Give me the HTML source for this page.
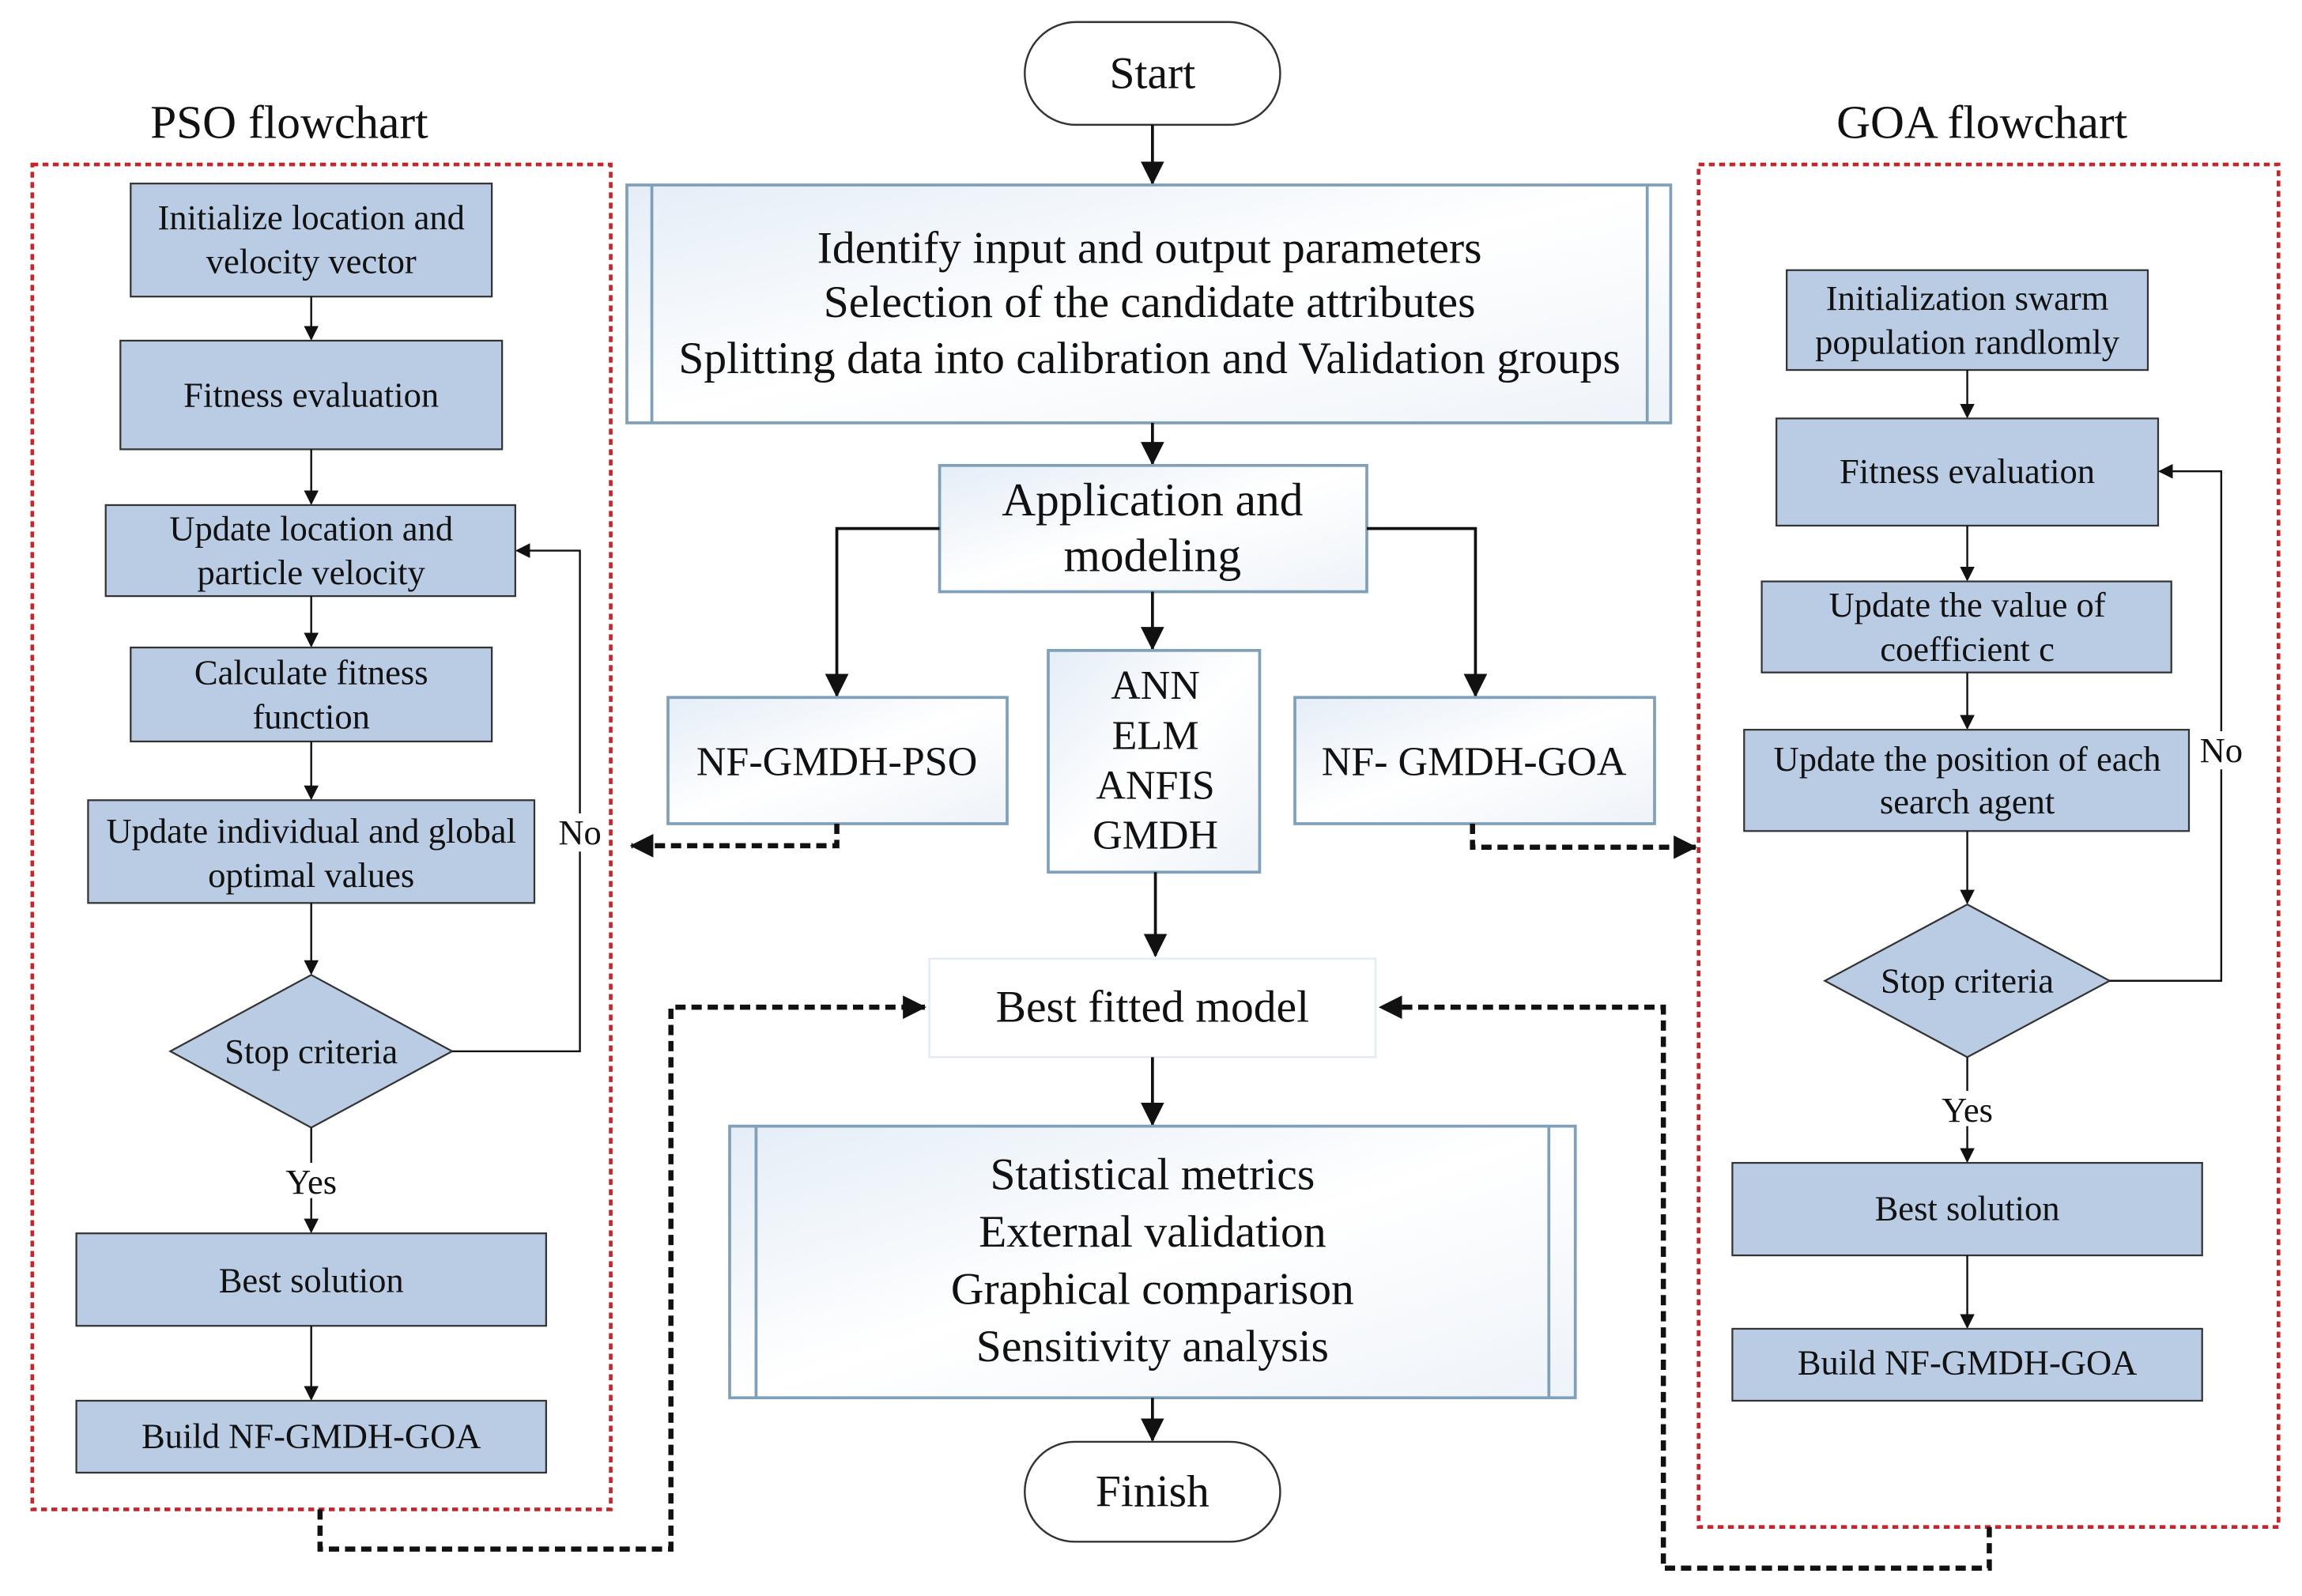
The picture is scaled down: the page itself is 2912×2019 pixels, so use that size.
<!DOCTYPE html>
<html><head><meta charset="utf-8"><style>
html,body{margin:0;padding:0;background:#fff;}
svg{display:block;}
text{font-family:"Liberation Serif",serif;fill:#111;text-anchor:middle;}
.b{fill:#b9cce4;stroke:#333;stroke-width:1.2;}
.c{fill:url(#g);stroke:#7fa0b8;stroke-width:2;}
.l{stroke:#111;stroke-width:1.3;fill:none;}
.L{stroke:#111;stroke-width:2;fill:none;}
.d{stroke:#111;stroke-width:3.5;fill:none;stroke-dasharray:7 4;}
.r{stroke:#c0282d;stroke-width:2.5;fill:none;stroke-dasharray:4 3;}
.s{font-size:24px;}
</style></head><body>
<svg width="2912" height="2019" viewBox="0 0 1568 1087" preserveAspectRatio="none" xmlns="http://www.w3.org/2000/svg">
<defs>
<linearGradient id="g" x1="0" y1="0" x2="1" y2="1"><stop offset="0" stop-color="#e4edf7"/><stop offset="0.5" stop-color="#ffffff"/><stop offset="1" stop-color="#eef3f9"/></linearGradient>
<marker id="a" markerWidth="10" markerHeight="10" refX="9" refY="5" orient="auto" markerUnits="userSpaceOnUse"><path d="M0,0 L10,5 L0,10 z" fill="#111"/></marker>
<marker id="A" markerWidth="16" markerHeight="16" refX="15" refY="8" orient="auto" markerUnits="userSpaceOnUse"><path d="M0,0 L16,8 L0,16 z" fill="#111"/></marker>
</defs>

<text x="197" y="94" font-size="32">PSO flowchart</text>
<text x="1350" y="94" font-size="32">GOA flowchart</text>

<rect class="r" x="22" y="112" width="394" height="916"/>
<rect class="r" x="1157" y="112" width="395" height="928"/>

<rect x="698" y="15" width="174" height="70" rx="35" fill="#fff" stroke="#333" stroke-width="1.3"/>
<text x="785" y="60" font-size="31">Start</text>
<line class="L" x1="785" y1="85" x2="785" y2="125" marker-end="url(#A)"/>

<rect class="c" x="427" y="126" width="711" height="162"/>
<line stroke="#7fa0b8" stroke-width="2" x1="444" y1="126" x2="444" y2="288"/>
<line stroke="#7fa0b8" stroke-width="2" x1="1122" y1="126" x2="1122" y2="288"/>
<text x="783" y="179" font-size="31">Identify input and output parameters</text>
<text x="783" y="216" font-size="31">Selection of the candidate attributes</text>
<text x="783" y="254" font-size="31">Splitting data into calibration and Validation groups</text>
<line class="L" x1="785" y1="288" x2="785" y2="316" marker-end="url(#A)"/>

<rect class="c" x="640" y="317" width="291" height="86"/>
<text x="785" y="351" font-size="32">Application and</text>
<text x="785" y="389" font-size="32">modeling</text>

<polyline class="L" points="640,360 570,360 570,474" marker-end="url(#A)"/>
<polyline class="L" points="931,360 1005,360 1005,474" marker-end="url(#A)"/>
<line class="L" x1="785" y1="403" x2="785" y2="442" marker-end="url(#A)"/>

<rect class="c" x="455" y="475" width="231" height="86"/>
<text x="570" y="528" font-size="28">NF-GMDH-PSO</text>
<rect class="c" x="714" y="443" width="144" height="151"/>
<text x="787" y="476" font-size="28">ANN</text>
<text x="787" y="510" font-size="28">ELM</text>
<text x="787" y="544" font-size="28">ANFIS</text>
<text x="787" y="578" font-size="28">GMDH</text>
<rect class="c" x="882" y="475" width="245" height="86"/>
<text x="1004" y="528" font-size="28">NF- GMDH-GOA</text>

<line class="L" x1="787" y1="594" x2="787" y2="651" marker-end="url(#A)"/>
<rect x="633" y="653" width="304" height="67" fill="#fff" stroke="#e6ecf2" stroke-width="1.5"/>
<text x="785" y="696" font-size="31">Best fitted model</text>
<line class="L" x1="785" y1="720" x2="785" y2="766" marker-end="url(#A)"/>

<rect class="c" x="497" y="767" width="576" height="185"/>
<line stroke="#7fa0b8" stroke-width="2" x1="515" y1="767" x2="515" y2="952"/>
<line stroke="#7fa0b8" stroke-width="2" x1="1055" y1="767" x2="1055" y2="952"/>
<text x="785" y="810" font-size="31">Statistical metrics</text>
<text x="785" y="849" font-size="31">External validation</text>
<text x="785" y="888" font-size="31">Graphical comparison</text>
<text x="785" y="927" font-size="31">Sensitivity analysis</text>
<line class="L" x1="785" y1="952" x2="785" y2="981" marker-end="url(#A)"/>
<rect x="698" y="982" width="174" height="68" rx="34" fill="#fff" stroke="#333" stroke-width="1.3"/>
<text x="785" y="1026" font-size="31">Finish</text>

<polyline class="d" points="570,561 570,576 430,576" marker-end="url(#A)"/>
<polyline class="d" points="1003,561 1003,577 1155,577" marker-end="url(#A)"/>
<polyline class="d" points="218,1028 218,1055 457,1055 457,686 630,686" marker-end="url(#A)"/>
<polyline class="d" points="1355,1040 1355,1068 1133,1068 1133,686 940,686" marker-end="url(#A)"/>

<rect class="b" x="89" y="125" width="246" height="77"/>
<text class="s" x="212" y="156">Initialize location and</text>
<text class="s" x="212" y="186">velocity vector</text>
<line class="l" x1="212" y1="202" x2="212" y2="231" marker-end="url(#a)"/>
<rect class="b" x="82" y="232" width="260" height="74"/>
<text class="s" x="212" y="277">Fitness evaluation</text>
<line class="l" x1="212" y1="306" x2="212" y2="343" marker-end="url(#a)"/>
<rect class="b" x="72" y="344" width="279" height="62"/>
<text class="s" x="212" y="368">Update location and</text>
<text class="s" x="212" y="398">particle velocity</text>
<line class="l" x1="212" y1="406" x2="212" y2="440" marker-end="url(#a)"/>
<rect class="b" x="89" y="441" width="246" height="64"/>
<text class="s" x="212" y="466">Calculate fitness</text>
<text class="s" x="212" y="496">function</text>
<line class="l" x1="212" y1="505" x2="212" y2="544" marker-end="url(#a)"/>
<rect class="b" x="60" y="545" width="304" height="70"/>
<text class="s" x="212" y="574">Update individual and global</text>
<text class="s" x="212" y="604">optimal values</text>
<line class="l" x1="212" y1="615" x2="212" y2="663" marker-end="url(#a)"/>
<polygon class="b" points="212,664 308,716 212,768 116,716"/>
<text class="s" x="212" y="724">Stop criteria</text>
<line class="l" x1="212" y1="768" x2="212" y2="839" marker-end="url(#a)"/>
<rect x="188" y="792" width="48" height="24" fill="#fff"/>
<text class="s" x="212" y="813">Yes</text>
<rect class="b" x="52" y="840" width="320" height="63"/>
<text class="s" x="212" y="880">Best solution</text>
<line class="l" x1="212" y1="903" x2="212" y2="953" marker-end="url(#a)"/>
<rect class="b" x="52" y="954" width="320" height="49"/>
<text class="s" x="212" y="986">Build NF-GMDH-GOA</text>
<polyline class="l" points="308,716 395,716 395,375 352,375" marker-end="url(#a)"/>
<rect x="376" y="554" width="38" height="26" fill="#fff"/>
<text class="s" x="395" y="575">No</text>

<rect class="b" x="1217" y="184" width="246" height="68"/>
<text class="s" x="1340" y="211">Initialization swarm</text>
<text class="s" x="1340" y="241">population randlomly</text>
<line class="l" x1="1340" y1="252" x2="1340" y2="284" marker-end="url(#a)"/>
<rect class="b" x="1210" y="285" width="260" height="73"/>
<text class="s" x="1340" y="329">Fitness evaluation</text>
<line class="l" x1="1340" y1="358" x2="1340" y2="395" marker-end="url(#a)"/>
<rect class="b" x="1200" y="396" width="279" height="62"/>
<text class="s" x="1340" y="420">Update the value of</text>
<text class="s" x="1340" y="450">coefficient c</text>
<line class="l" x1="1340" y1="458" x2="1340" y2="496" marker-end="url(#a)"/>
<rect class="b" x="1188" y="497" width="303" height="69"/>
<text class="s" x="1340" y="525">Update the position of each</text>
<text class="s" x="1340" y="554">search agent</text>
<line class="l" x1="1340" y1="566" x2="1340" y2="615" marker-end="url(#a)"/>
<polygon class="b" points="1340,616 1437,668 1340,720 1243,668"/>
<text class="s" x="1340" y="676">Stop criteria</text>
<line class="l" x1="1340" y1="720" x2="1340" y2="791" marker-end="url(#a)"/>
<rect x="1316" y="743" width="48" height="24" fill="#fff"/>
<text class="s" x="1340" y="764">Yes</text>
<rect class="b" x="1180" y="792" width="320" height="63"/>
<text class="s" x="1340" y="831">Best solution</text>
<line class="l" x1="1340" y1="855" x2="1340" y2="904" marker-end="url(#a)"/>
<rect class="b" x="1180" y="905" width="320" height="49"/>
<text class="s" x="1340" y="936">Build NF-GMDH-GOA</text>
<polyline class="l" points="1437,668 1513,668 1513,321 1471,321" marker-end="url(#a)"/>
<rect x="1494" y="498" width="38" height="26" fill="#fff"/>
<text class="s" x="1513" y="519">No</text>
</svg>
</body></html>
